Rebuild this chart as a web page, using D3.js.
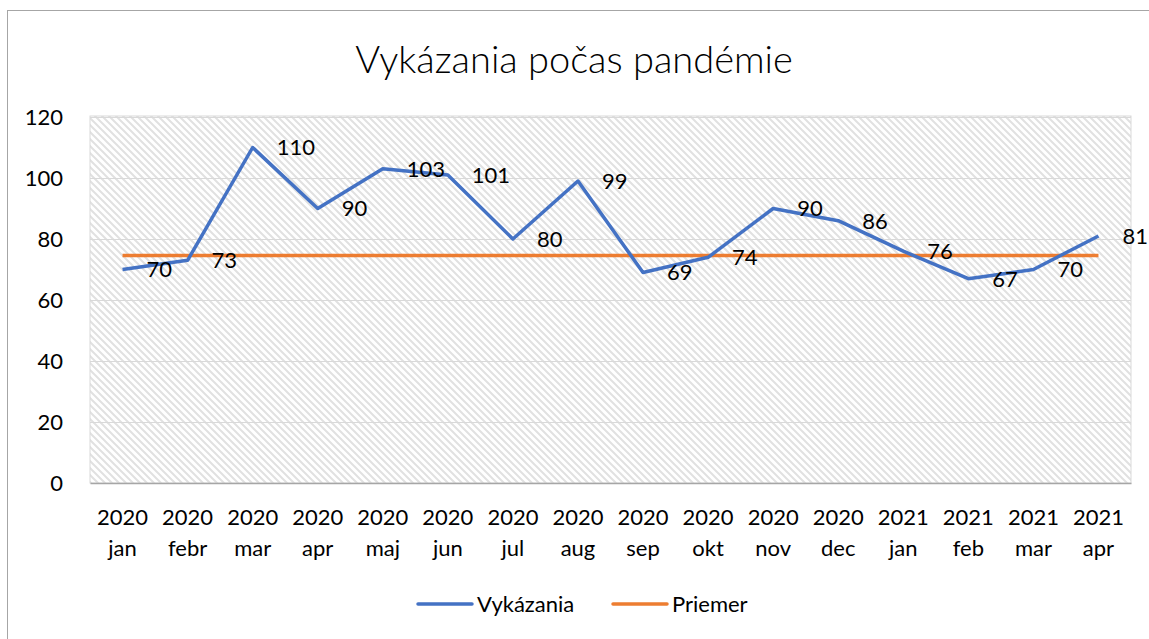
<!DOCTYPE html>
<html lang="sk">
  <head>
    <meta charset="utf-8" />
    <title>Vykázania počas pandémie</title>
    <script src="https://d3js.org/d3.v7.min.js" charset="utf-8"></script>
    <style>
      body { margin: 0; background: #fff; }
      text { font-family: Lato, "Open Sans", sans-serif; fill: #000; }
    </style>
  </head>
  <body>
    <div id="graph-container"></div>
    <script type="text/javascript">
      // data
      const years = ["2020", "2020", "2020", "2020", "2020", "2020", "2020", "2020",
        "2020", "2020", "2020", "2020", "2021", "2021", "2021", "2021"];
      const months = ["jan", "febr", "mar", "apr", "maj", "jun", "jul", "aug",
        "sep", "okt", "nov", "dec", "jan", "feb", "mar", "apr"];
      const vykazania = [70, 73, 110, 90, 103, 101, 80, 99, 69, 74, 90, 86, 76, 67, 70, 81];
      const priemer = [74.6, 74.6, 74.6, 74.6, 74.6, 74.6, 74.6, 74.6,
        74.6, 74.6, 74.6, 74.6, 74.6, 74.6, 74.6, 74.6];
      const yTicks = [0, 20, 40, 60, 80, 100, 120];

      const cW = 1149, cH = 639;
      const cLeft = 90, cRight = 1131, cTop = 117, cBottom = 483;
      const cBlue = "#4472C4", cOrange = "#ED7D31";

      const svg = d3.select("#graph-container").append("svg")
        .attr("width", cW).attr("height", cH);

      // hatch pattern
      const pat = svg.append("defs").append("pattern")
        .attr("id", "hatch").attr("patternUnits", "userSpaceOnUse")
        .attr("width", 7).attr("height", 7);
      pat.append("path")
        .attr("d", "M-1,-1 L8,8 M6,-1 L8,1 M-1,6 L1,8")
        .attr("stroke", "#e1e1e1").attr("stroke-width", 2);

      // outer frame
      svg.append("rect")
        .attr("x", 7.5).attr("y", 10.5).attr("width", cW + 20).attr("height", cH + 20)
        .attr("fill", "#fff").attr("stroke", "#a6a6a6").attr("stroke-width", 1);

      const idx = d3.range(months.length);
      const xScale = d3.scaleBand().domain(idx).range([cLeft, cRight]);
      const xc = (i) => xScale(i) + xScale.bandwidth() / 2;
      const yScale = d3.scaleLinear().domain([0, 120]).range([cBottom, cTop]);

      // plot area
      svg.append("rect")
        .attr("x", cLeft).attr("y", cTop - 1)
        .attr("width", cRight - cLeft).attr("height", cBottom - cTop + 1)
        .attr("fill", "url(#hatch)").attr("stroke", "#d9d9d9");

      // gridlines
      svg.append("g").selectAll("line").data(yTicks.filter((d) => d > 0)).join("line")
        .attr("x1", cLeft).attr("x2", cRight)
        .attr("y1", (d) => yScale(d) + 0.5).attr("y2", (d) => yScale(d) + 0.5)
        .attr("stroke", "#d9d9d9").attr("stroke-width", 1);

      // y axis
      const yAxis = svg.append("g")
        .attr("transform", `translate(${cLeft},0)`)
        .call(d3.axisLeft(yScale).tickValues(yTicks).tickSize(0).tickPadding(27));
      yAxis.select(".domain").remove();
      yAxis.selectAll("text").style("font-size", "22px").attr("font-family", null)
        .attr("dy", "0.35em");

      // x axis
      const xAxis = svg.append("g")
        .attr("transform", `translate(0,${cBottom})`)
        .call(d3.axisBottom(xScale).tickSize(0).tickFormat(""));
      xAxis.select(".domain").attr("stroke", "#a6a6a6").attr("stroke-width", 1.5);
      xAxis.selectAll(".tick").each(function (d) {
        const t = d3.select(this).append("text")
          .attr("text-anchor", "middle").style("font-size", "22px");
        t.append("tspan").attr("x", 0).attr("y", 42).text(years[d]);
        t.append("tspan").attr("x", 0).attr("y", 73).text(months[d]);
      });

      // lines
      const line = d3.line().x((d, i) => xc(i)).y((d) => yScale(d));
      svg.append("path").datum(priemer)
        .attr("d", line).attr("fill", "none")
        .attr("stroke", cOrange).attr("stroke-width", 3.5).attr("stroke-linejoin", "round");
      svg.append("path").datum(vykazania)
        .attr("d", line).attr("fill", "none")
        .attr("stroke", cBlue).attr("stroke-width", 3.5).attr("stroke-linejoin", "round");

      // data labels
      svg.append("g").selectAll("text").data(vykazania).join("text")
        .attr("x", (d, i) => xc(i) + 24)
        .attr("y", (d) => yScale(d))
        .attr("dy", "0.36em")
        .style("font-size", "22px")
        .text((d) => d);

      // title
      svg.append("text")
        .attr("x", 574).attr("y", 73)
        .attr("text-anchor", "middle")
        .style("font-size", "38px").style("font-weight", 300)
        .text("Vykázania počas pandémie");

      // legend
      const legendItems = [
        { name: "Vykázania", color: cBlue, x: 418 },
        { name: "Priemer", color: cOrange, x: 613 },
      ];
      const lg = svg.append("g").selectAll("g").data(legendItems).join("g")
        .attr("transform", (d) => `translate(${d.x},604)`);
      lg.append("line")
        .attr("x1", 0).attr("x2", 54).attr("y1", 0).attr("y2", 0)
        .attr("stroke", (d) => d.color).attr("stroke-width", 3.5)
        .attr("stroke-linecap", "round");
      lg.append("text")
        .attr("x", 59).attr("dy", "0.36em")
        .style("font-size", "22px")
        .text((d) => d.name);
    </script>
  </body>
</html>
